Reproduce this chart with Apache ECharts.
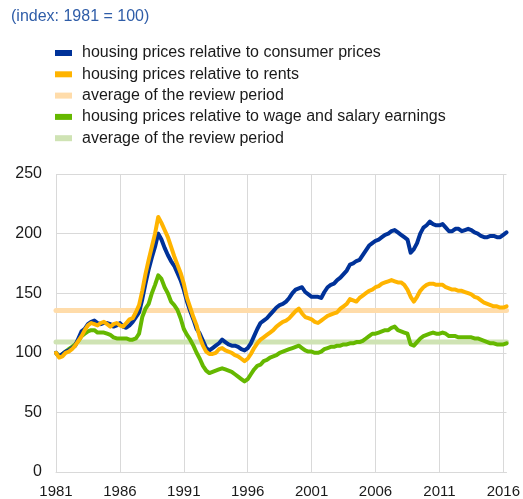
<!DOCTYPE html>
<html>
<head>
<meta charset="utf-8">
<script src="https://cdn.jsdelivr.net/npm/echarts@6/dist/echarts.min.js"></script>
<style>
  html, body { margin: 0; padding: 0; background: #ffffff; }
  #chart { width: 523px; height: 499px; }
</style>
</head>
<body>
<div id="chart"></div>
<script>
// Quarterly observations, 1981 Q1 to 2016 Q2 (index: 1981 = 100)
const startYear = 1981;
const seriesNames = [
  'housing prices relative to consumer prices',
  'housing prices relative to rents',
  'average of the review period',
  'housing prices relative to wage and salary earnings',
  'average of the review period '
];

const consumerPrices = [
  100, 97, 99, 101,   102, 104, 106, 112,   118, 120, 124, 126,   127, 125, 124, 125,
  125, 124, 122, 123,   125, 122, 121, 123,   126, 130, 134, 145,   158, 170, 180, 189,
  200, 195, 188, 182,   177, 173, 167, 161,   153, 143, 135, 128,   120, 116, 110, 104,
  102, 104, 106, 108,   111, 109, 107, 106,   106, 105, 103, 102,   104, 108, 114, 120,
  125, 127, 129, 132,   135, 138, 140, 141,   143, 146, 150, 153,   154, 155, 151, 149,
  147, 147, 147, 146,   151, 155, 157, 158,   161, 163, 166, 169,   174, 175, 177, 178,
  182, 186, 190, 192,   194, 195, 197, 199,   200, 202, 203, 201,   199, 197, 195, 184,
  187, 192, 200, 205,   207, 210, 208, 207,   207, 208, 205, 202,   202, 204, 204, 202,
  203, 204, 203, 201,   200, 198, 197, 197,   198, 198, 197, 197,   199, 201
];

const rents = [
  100, 96, 97, 100,   101, 103, 106, 110,   114, 119, 123, 125,   124, 123, 125, 126,
  124, 122, 124, 125,   123, 122, 125, 128,   129, 134, 140, 152,   166, 178, 189, 200,
  214, 209, 203, 197,   189, 181, 174, 167,   158, 146, 138, 130,   123, 113, 106, 101,
  99, 99, 100, 103,   104, 102, 101, 100,   98, 97, 95, 93,   95, 99, 104, 108,
  111, 113, 115, 117,   119, 122, 124, 126,   127, 129, 132, 135,   137, 133, 130, 129,
  128, 126, 125, 127,   129, 131, 132, 133,   134, 137, 139, 141,   145, 144, 143, 146,
  148, 150, 152, 153,   155, 156, 158, 159,   160, 161, 160, 159,   159, 157, 153, 147,
  143, 147, 152, 155,   157, 158, 158, 157,   157, 157, 155, 154,   153, 153, 152, 152,
  151, 150, 149, 147,   146, 144, 142, 141,   140, 139, 139, 138,   138, 139
];

const earnings = [
  100, 97, 99, 101,   103, 105, 107, 110,   114, 116, 118, 119,   119, 117, 117, 117,
  116, 115, 113, 112,   112, 112, 112, 111,   111, 112, 116, 130,   137, 141, 150, 157,
  165, 162, 155, 150,   143, 140, 136, 129,   120, 115, 111, 106,   100, 95, 89, 85,
  83, 84, 85, 86,   87, 86, 85, 84,   82, 80, 78, 76,   78, 82, 86, 89,
  90, 93, 94, 96,   97, 98, 100, 101,   102, 103, 104, 105,   106, 104, 102, 101,
  101, 100, 100, 101,   103, 104, 105, 105,   106, 106, 107, 107,   108, 108, 109, 109,
  110, 112, 114, 116,   116, 117, 118, 119,   119, 121, 122, 119,   118, 117, 116, 107,
  106, 109, 112, 114,   115, 116, 117, 116,   116, 117, 116, 114,   114, 114, 113, 113,
  113, 113, 113, 112,   112, 111, 110, 109,   108, 108, 107, 107,   107, 108
];

// Review-period averages
const rentsAverage = 135.5;
const earningsAverage = 109;

// Category labels: one per quarter
const quarters = consumerPrices.map((_, i) =>
  (startYear + Math.floor(i / 4)) + 'Q' + (i % 4 + 1));

const yTicks = { min: 0, max: 250, interval: 50 };

const colors = {
  consumer: '#003299',
  rents: '#ffb400',
  rentsAvg: '#ffdcaa',
  earnings: '#65b800',
  earningsAvg: '#cfe3b4'
};

const fontFamily = 'Liberation Sans, Arial, sans-serif';

const chart = echarts.init(document.getElementById('chart'), null, { renderer: 'canvas' });

const lineSeries = (name, data, color, width, z) => ({
  name: name,
  type: 'line',
  data: data,
  showSymbol: false,
  symbol: 'none',
  smooth: false,
  z: z,
  itemStyle: { color: color },
  lineStyle: { color: color, width: width, cap: 'round', join: 'round' },
  emphasis: { disabled: true },
  animation: false
});

chart.setOption({
  animation: false,
  title: {
    text: '(index: 1981 = 100)',
    left: 11,
    top: 9,
    padding: 0,
    textStyle: {
      fontFamily: fontFamily,
      fontSize: 16,
      fontWeight: 'normal',
      color: '#2f5da8'
    }
  },
  legend: {
    orient: 'vertical',
    left: 55,
    top: 45,
    padding: 0,
    itemWidth: 17,
    itemHeight: 6,
    itemGap: 5.3,
    icon: 'rect',
    selectedMode: false,
    data: seriesNames,
    textStyle: {
      fontFamily: fontFamily,
      fontSize: 16,
      lineHeight: 16,
      color: '#1a1a1a',
      padding: [0, 0, 0, 5]
    }
  },
  grid: {
    left: 56,
    right: 15,
    top: 174,
    bottom: 26,
    containLabel: false
  },
  xAxis: {
    type: 'category',
    data: quarters,
    boundaryGap: false,
    axisLine: { show: true, lineStyle: { color: '#d9d9d9', width: 1 } },
    axisTick: { show: false },
    axisLabel: {
      interval: 19,
      margin: 12,
      fontFamily: fontFamily,
      fontSize: 15,
      color: '#1a1a1a',
      formatter: (v) => v.slice(0, 4)
    },
    splitLine: {
      show: true,
      interval: 19,
      lineStyle: { color: '#d9d9d9', width: 1 }
    }
  },
  yAxis: {
    type: 'value',
    min: yTicks.min,
    max: yTicks.max,
    interval: yTicks.interval,
    axisLine: { show: false },
    axisTick: { show: false },
    axisLabel: {
      margin: 14,
      fontFamily: fontFamily,
      fontSize: 16,
      color: '#1a1a1a'
    },
    splitLine: { lineStyle: { color: '#d9d9d9', width: 1 } }
  },
  series: [
    lineSeries(seriesNames[0], consumerPrices, colors.consumer, 4, 5),
    lineSeries(seriesNames[1], rents, colors.rents, 4, 6),
    lineSeries(seriesNames[2], quarters.map(() => rentsAverage), colors.rentsAvg, 5, 2),
    lineSeries(seriesNames[3], earnings, colors.earnings, 4, 4),
    lineSeries(seriesNames[4], quarters.map(() => earningsAverage), colors.earningsAvg, 5, 2)
  ]
});
</script>
</body>
</html>
